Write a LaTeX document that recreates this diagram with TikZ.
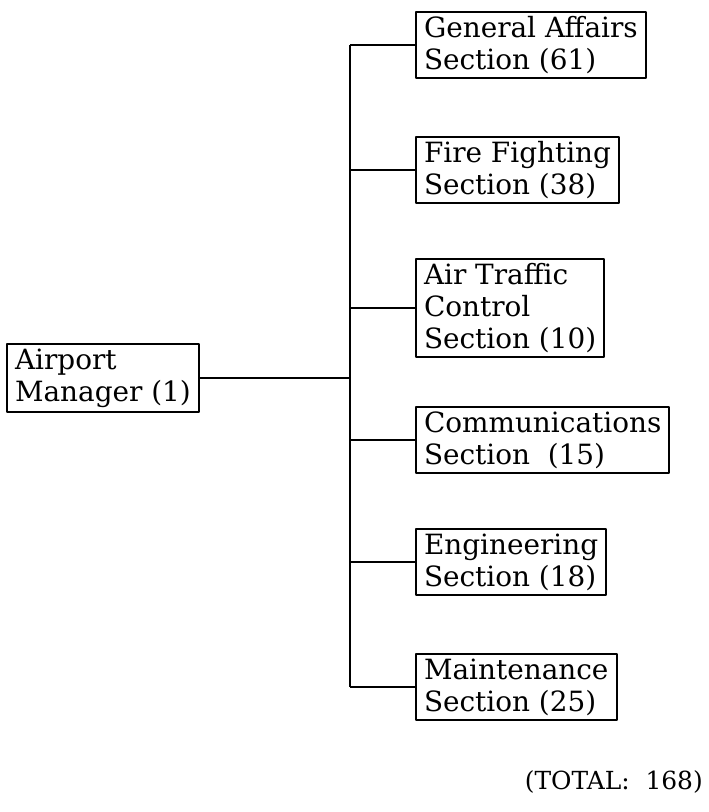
\documentclass[tikz,border=0pt]{standalone}
\usepackage{fontspec}
\setmainfont{DejaVu Serif}
\begin{document}
\begin{tikzpicture}[line join=bevel,
  sect/.style={draw,rectangle,line width=2bp,anchor=west,align=left,inner xsep=8bp,inner ysep=4.5bp,font=\fontsize{28}{32}\selectfont},
  link/.style={line width=1.4bp}]
\useasboundingbox (0bp,0bp) rectangle (709bp,812bp);
%%
\node (mgr) at (6bp,434bp) [sect] {Airport\\Manager (1)};
  \node (ga) at (415bp,767bp) [sect] {General Affairs\\Section (61)};
  \node (ff) at (415bp,642bp) [sect] {Fire Fighting\\Section (38)};
  \node (atc) at (415bp,504bp) [sect] {Air Traffic\\Control\\Section (10)};
  \node (com) at (415bp,372bp) [sect] {Communications\\Section\ \ (15)};
  \node (eng) at (415bp,250bp) [sect] {Engineering\\Section (18)};
  \node (mnt) at (415bp,125bp) [sect] {Maintenance\\Section (25)};
  \node (total) at (703bp,30bp) [anchor=east,inner sep=0pt,font=\fontsize{25}{30}\selectfont] {(TOTAL:\ \ 168)};
  \coordinate (bustop) at (350bp,767bp);
  \coordinate (busbot) at (350bp,125bp);
  \draw [link] (bustop) -- (busbot);
  \draw [link] (mgr.east) -- (mgr.east -| bustop);
  \draw [link] (bustop) -- (ga);
  \draw [link] (ff.west -| bustop) -- (ff);
  \draw [link] (atc.west -| bustop) -- (atc);
  \draw [link] (com.west -| bustop) -- (com);
  \draw [link] (eng.west -| bustop) -- (eng);
  \draw [link] (busbot) -- (mnt);
%
\end{tikzpicture}
\end{document}
